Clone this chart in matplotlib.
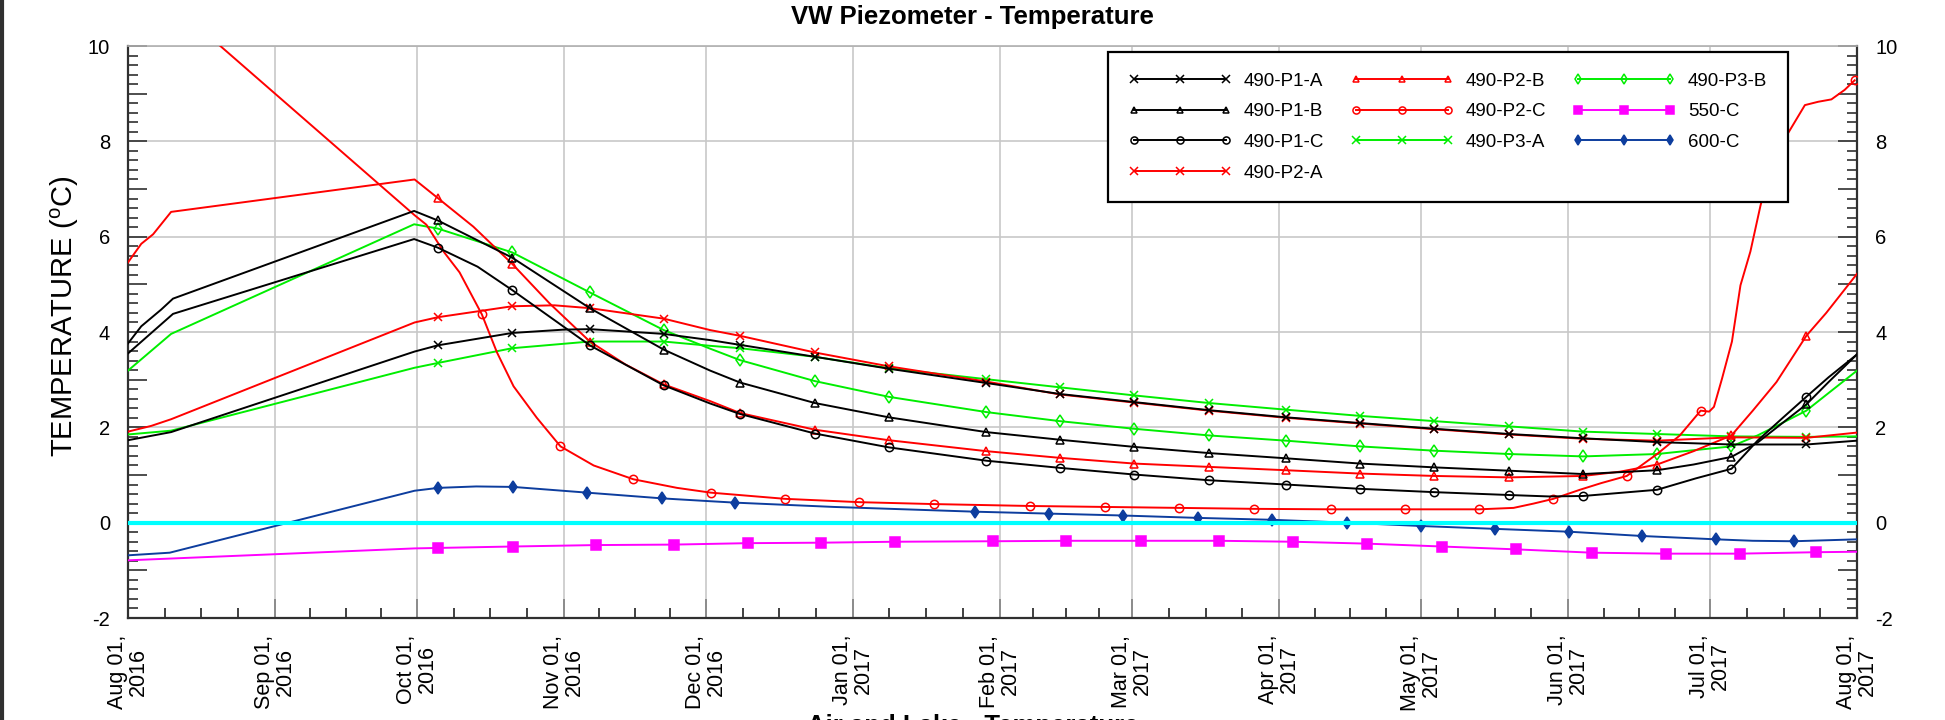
import numpy as np
import pandas as pd
import matplotlib
matplotlib.use("Agg")
import matplotlib.pyplot as plt
import matplotlib.dates as mdates
from matplotlib.ticker import MultipleLocator, FixedLocator, FuncFormatter
from matplotlib.lines import Line2D

plt.rcParams['font.family'] = ['Liberation Sans', 'DejaVu Sans']
plt.rcParams['mathtext.fontset'] = 'custom'
plt.rcParams['mathtext.rm'] = 'Liberation Sans'

# readings: days since 2016-08-01, temperature (C), marker flag
p1a_day = [0, 9.1, 60.5, 65.4, 81.1, 92, 97.5, 113.1, 122.9, 129.2, 145, 160.6, 181.2, 196.7, 212.4,
           228.2, 244.5, 260.1, 275.8, 291.6, 307.2, 322.8, 338.5, 354.3, 365]
p1a_val = [1.73, 1.90, 3.59, 3.72, 3.98, 4.05, 4.06, 3.96, 3.83, 3.73, 3.48, 3.23, 2.93, 2.70, 2.53,
           2.36, 2.21, 2.09, 1.97, 1.86, 1.77, 1.69, 1.64, 1.64, 1.72]
p1a_mk = [0, 0, 0, 1, 1, 0, 1, 1, 0, 1, 1, 1, 1, 1, 1, 1, 1, 1, 1, 1, 1, 1, 1, 1, 0]

p1b_day = [0, 2.8, 7.0, 9.5, 60.4, 65.4, 81.1, 97.5, 113.1, 122.9, 129.2, 145, 160.6, 181.2, 196.7,
           212.4, 228.2, 244.5, 260.1, 275.8, 291.6, 307.2, 322.8, 330.5, 338.5, 344, 349, 354.3, 359, 365]
p1b_val = [3.76, 4.12, 4.47, 4.70, 6.54, 6.34, 5.56, 4.50, 3.63, 3.19, 2.94, 2.51, 2.21, 1.90, 1.74,
           1.59, 1.46, 1.35, 1.24, 1.16, 1.09, 1.02, 1.10, 1.22, 1.38, 1.68, 2.07, 2.48, 2.95, 3.53]
p1b_mk = [0, 0, 0, 0, 0, 1, 1, 1, 1, 0, 1, 1, 1, 1, 1, 1, 1, 1, 1, 1, 1, 1, 1, 0, 1, 0, 0, 1, 0, 0]

p1c_day = [0, 9.5, 60.4, 65.4, 73.8, 81.1, 97.5, 113.1, 122.9, 129.2, 145, 160.6, 181.2, 196.7, 212.4,
           228.2, 244.5, 260.1, 275.8, 291.6, 300, 307.2, 322.8, 331, 338.5, 344, 349, 354.3, 359, 365]
p1c_val = [3.55, 4.38, 5.95, 5.77, 5.37, 4.88, 3.72, 2.88, 2.50, 2.28, 1.87, 1.58, 1.30, 1.15, 1.01,
           0.89, 0.80, 0.71, 0.64, 0.58, 0.55, 0.56, 0.69, 0.93, 1.13, 1.72, 2.17, 2.64, 3.05, 3.53]
p1c_mk = [0, 0, 0, 1, 0, 1, 1, 1, 0, 1, 1, 1, 1, 1, 1, 1, 1, 1, 1, 1, 0, 1, 1, 0, 1, 0, 0, 1, 0, 0]

p2a_day = [0, 4.9, 9.1, 60.5, 65.4, 81.1, 90, 97.5, 113.1, 122.9, 129.2, 145, 160.6, 181.2, 196.7,
           212.4, 228.2, 244.5, 260.1, 275.8, 291.6, 307.2, 322.8, 338.5, 354.3, 365]
p2a_val = [1.91, 2.03, 2.17, 4.20, 4.31, 4.54, 4.56, 4.50, 4.28, 4.04, 3.92, 3.57, 3.28, 2.96, 2.69,
           2.52, 2.35, 2.20, 2.08, 1.96, 1.85, 1.76, 1.72, 1.79, 1.78, 1.89]
p2a_mk = [0, 0, 0, 0, 1, 1, 0, 1, 1, 0, 1, 1, 1, 1, 1, 1, 1, 1, 1, 1, 1, 1, 1, 1, 1, 0]

p2b_day = [0, 2.8, 5.3, 9.1, 60.5, 65.4, 72.9, 81.1, 89, 97.5, 105, 113.1, 122.9, 129.2, 145, 160.6,
           181.2, 196.7, 212.4, 228.2, 244.5, 260.1, 275.8, 291.6, 307.2, 315, 322.8, 330.5, 338.5,
           343, 348, 354.3, 358.5, 365]
p2b_val = [5.46, 5.85, 6.05, 6.52, 7.20, 6.81, 6.21, 5.43, 4.60, 3.80, 3.32, 2.90, 2.55, 2.30, 1.95, 1.73,
           1.50, 1.36, 1.24, 1.17, 1.10, 1.03, 0.98, 0.95, 0.98, 1.07, 1.22, 1.50, 1.83,
           2.35, 2.95, 3.92, 4.40, 5.22]
p2b_mk = [0, 0, 0, 0, 0, 1, 0, 1, 0, 1, 0, 1, 0, 1, 1, 1, 1, 1, 1, 1, 1, 1, 1, 1, 1, 0, 1, 0, 1,
          0, 0, 1, 0, 0]

p2c_day = [0, 9.1, 60.5, 63, 66.6, 70, 74.7, 77.9, 81.4, 86.3, 91.3, 98.3, 106.7, 115.9, 123, 138.7,
           154.4, 170.1, 190.5, 206.2, 221.9, 237.7, 254, 269.6, 285.2, 292.5, 296.7, 300.9, 306.5,
           311, 316.4, 322.8, 327.6, 332, 333.8, 334.8, 336.5, 338.6, 340.4, 342.5, 344.6, 347,
           350.2, 354, 356.8, 359.6, 362.4, 364.5]
p2c_val = [11.7, 10.9, 6.45, 6.25, 5.69, 5.25, 4.37, 3.57, 2.86, 2.20, 1.60, 1.20, 0.91, 0.73, 0.63, 0.50,
           0.43, 0.39, 0.35, 0.33, 0.31, 0.29, 0.28, 0.28, 0.28, 0.31, 0.40, 0.50, 0.69,
           0.83, 0.98, 1.44, 1.83, 2.35, 2.33, 2.43, 3.02, 3.80, 4.98, 5.69, 6.64, 7.58,
           8.13, 8.76, 8.83, 8.88, 9.08, 9.28]
p2c_mk = [0, 0, 0, 0, 0, 0, 1, 0, 0, 0, 1, 0, 1, 0, 1, 1,
          1, 1, 1, 1, 1, 1, 1, 1, 1, 0, 0, 1, 0,
          0, 1, 0, 0, 1, 0, 0, 0, 0, 0, 0, 0, 1,
          0, 0, 0, 0, 0, 1]

p3a_day = [0, 9.1, 60.5, 65.4, 81.1, 97.5, 113.1, 122.9, 129.2, 145, 160.6, 181.2, 196.7, 212.4,
           228.2, 244.5, 260.1, 275.8, 291.6, 307.2, 322.8, 338.5, 354.3, 365]
p3a_val = [1.85, 1.93, 3.25, 3.35, 3.66, 3.80, 3.80, 3.71, 3.66, 3.48, 3.24, 3.01, 2.84, 2.67,
           2.51, 2.37, 2.24, 2.13, 2.02, 1.91, 1.86, 1.81, 1.80, 1.81]
p3a_mk = [0, 0, 0, 1, 1, 1, 1, 0, 1, 1, 1, 1, 1, 1, 1, 1, 1, 1, 1, 1, 1, 1, 1, 0]

p3b_day = [0, 9.1, 60.4, 65.4, 81.1, 97.5, 113.1, 122.9, 129.2, 145, 160.6, 181.2, 196.7, 212.4,
           228.2, 244.5, 260.1, 275.8, 291.6, 307.2, 322.8, 330.5, 338.5, 344, 349, 354.3, 359, 365]
p3b_val = [3.19, 3.96, 6.26, 6.17, 5.67, 4.83, 4.04, 3.65, 3.41, 2.97, 2.64, 2.32, 2.13, 1.97,
           1.83, 1.72, 1.60, 1.51, 1.44, 1.39, 1.44, 1.52, 1.60, 1.83, 2.08, 2.35, 2.72, 3.19]
p3b_mk = [0, 0, 0, 1, 1, 1, 1, 0, 1, 1, 1, 1, 1, 1, 1, 1, 1, 1, 1, 1, 1, 0, 1, 0, 0, 1, 0, 0]

c550_day = [0, 60.5, 65.5, 81.3, 98.8, 115.2, 130.8, 146.3, 162, 182.5, 198.1, 213.8, 230.3, 245.9,
            261.6, 277.3, 293, 309.1, 324.6, 340.2, 356.3, 365]
c550_val = [-0.79, -0.54, -0.53, -0.50, -0.47, -0.46, -0.43, -0.42, -0.40, -0.39, -0.38, -0.38, -0.38,
            -0.40, -0.44, -0.50, -0.56, -0.63, -0.65, -0.65, -0.62, -0.61]
c550_mk = [0, 0, 1, 1, 1, 1, 1, 1, 1, 1, 1, 1, 1, 1, 1, 1, 1, 1, 1, 1, 1, 0]

c600_day = [0, 8.8, 60.5, 65.5, 73.5, 81.3, 96.9, 112.7, 122.9, 128.2, 149, 178.9, 194.5, 210.1,
            225.9, 241.6, 257.3, 273, 288.6, 304.3, 319.7, 335.3, 343, 351.6, 365]
c600_val = [-0.685, -0.63, 0.67, 0.73, 0.76, 0.75, 0.63, 0.51, 0.45, 0.42, 0.33, 0.23, 0.19, 0.15,
            0.10, 0.06, 0.00, -0.07, -0.13, -0.19, -0.28, -0.35, -0.38, -0.39, -0.35]
c600_mk = [0, 0, 0, 1, 0, 1, 1, 1, 0, 1, 0, 1, 1, 1, 1, 1, 1, 1, 1, 1, 1, 1, 0, 1, 0]

series = [
    ("490-P1-A", p1a_day, p1a_val, p1a_mk, "black", "x", "black", 6),
    ("490-P1-B", p1b_day, p1b_val, p1b_mk, "black", "^", "none", 5.5),
    ("490-P1-C", p1c_day, p1c_val, p1c_mk, "black", "o", "none", 6),
    ("490-P2-A", p2a_day, p2a_val, p2a_mk, "#ff0000", "x", "#ff0000", 6),
    ("490-P2-B", p2b_day, p2b_val, p2b_mk, "#ff0000", "^", "none", 5.5),
    ("490-P2-C", p2c_day, p2c_val, p2c_mk, "#ff0000", "o", "none", 6),
    ("490-P3-A", p3a_day, p3a_val, p3a_mk, "#00ee00", "x", "#00ee00", 6),
    ("490-P3-B", p3b_day, p3b_val, p3b_mk, "#00ee00", "d", "none", 6),
    ("550-C", c550_day, c550_val, c550_mk, "#ff00ff", "s", "#ff00ff", 6.5),
    ("600-C", c600_day, c600_val, c600_mk, "#0d3d9e", "d", "#0d3d9e", 6),
]

start = mdates.datestr2num("2016-08-01")
months = pd.date_range("2016-08-01", "2017-08-01", freq="MS")
mnum = mdates.date2num(months.to_pydatetime())
minor_x = [a + k * (b - a) / 4 for a, b in zip(mnum[:-1], mnum[1:]) for k in (1, 2, 3)]

fig = plt.figure(figsize=(19.45, 7.2), dpi=100)
ax = fig.add_axes([128 / 1945, 102 / 720, 1729 / 1945, 572 / 720])

handles = []
for i, (name, d, v, mk, col, m, fc, ms) in enumerate(series):
    ln, = ax.plot(start + np.array(d), v, color=col, lw=1.4, marker=m, ms=ms, mfc=fc, mec=col,
                  mew=1.1, markevery=[bool(f) for f in mk], zorder=20 - i, label=name)
    handles.append(ln)

ax.axhline(0, color="#00ffff", lw=3, zorder=25)
for yv in range(-2, 11, 2):
    ax.axhline(yv, color="#c8c8c8", lw=1.2, zorder=0.5)

ax.set_xlim(mnum[0], mnum[-1])
ax.set_ylim(-2, 10)
ax.xaxis.set_major_locator(FixedLocator(mnum))
ax.xaxis.set_minor_locator(FixedLocator(minor_x))
ax.xaxis.set_major_formatter(mdates.DateFormatter("%b %d,\n%Y"))
ax.grid(True, axis="x", which="major", color="#c8c8c8", lw=1.2, zorder=0.5)
ax.set_axisbelow(True)

ax.yaxis.set_major_locator(MultipleLocator(1))
ax.yaxis.set_minor_locator(MultipleLocator(0.2))
ax.yaxis.set_major_formatter(FuncFormatter(lambda y, p: f"{y:.0f}" if round(y) % 2 == 0 else ""))

ax.tick_params(axis="x", which="major", direction="in", length=13.5, width=1.2, color="#808080",
               labelsize=15.5, pad=12)
ax.tick_params(axis="x", which="minor", direction="in", length=7, width=1.2, color="#202020")
ax.tick_params(axis="y", which="major", direction="in", length=14, width=1.2, color="#303030",
               labelsize=14.5, pad=13, right=True, labelright=True)
ax.tick_params(axis="y", which="minor", direction="in", length=7, width=1.2, color="#303030", right=True)
for lab in ax.get_xticklabels():
    lab.set_rotation(90)
    lab.set_linespacing(1.0)
    lab.set_multialignment("center")

for s in ("left", "bottom", "right"):
    ax.spines[s].set_color("#303030")
    ax.spines[s].set_linewidth(1.6)
ax.spines["top"].set_color("#b0b0b0")
ax.spines["top"].set_linewidth(1.2)

leg = ax.legend(handles=handles, ncol=3, loc="upper left", bbox_to_anchor=(1108 / 1945, 1 - 52 / 720),
                bbox_transform=fig.transFigure, borderaxespad=0, fontsize=13.5, numpoints=3,
                handlelength=5.5, handletextpad=0.65, columnspacing=1.4, labelspacing=0.72,
                borderpad=1.1, fancybox=False, framealpha=1, edgecolor="black", markerscale=0.85)
leg.get_frame().set_linewidth(1.6)
leg.set_zorder(50)

fig.text(0.5, 1 - 5 / 720, "VW Piezometer - Temperature", ha="center", va="top",
         fontsize=18.5, fontweight="bold")
fig.text(64.5 / 1945, 1 - 316 / 720, r"TEMPERATURE ($^{\mathrm{o}}$C)", rotation=90,
         ha="center", va="center", fontsize=21)
fig.text(0.5, 1 - 714 / 720, "Air and Lake - Temperature", ha="center", va="top",
         fontsize=18.5, fontweight="bold")
fig.add_artist(Line2D([1.5 / 1945, 1.5 / 1945], [0, 1], transform=fig.transFigure, color="#303030", lw=3))

fig.savefig("out.png", dpi=100)
